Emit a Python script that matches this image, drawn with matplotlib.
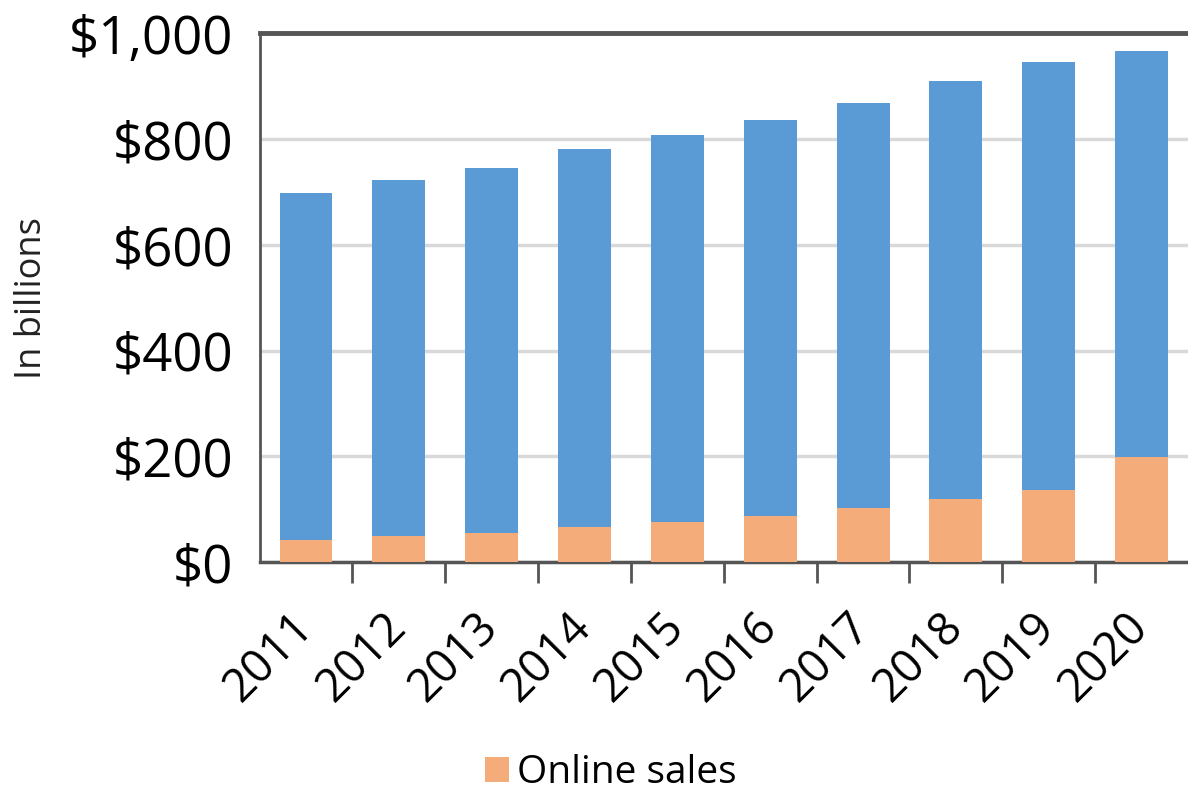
import matplotlib
matplotlib.use("Agg")
import matplotlib.pyplot as plt
import matplotlib.transforms as mtransforms
import numpy as np

# Data (billions of dollars)
years = ["2011", "2012", "2013", "2014", "2015", "2016", "2017", "2018", "2019", "2020"]
total_sales = [699, 723, 745, 781, 808, 837, 869, 910, 946, 966]
online_sales = [42, 49, 56, 66, 76, 87, 102, 119, 136, 199]
y_ticks = [0, 200, 400, 600, 800, 1000]
y_tick_labels = ["$0", "$200", "$400", "$600", "$800", "$1,000"]

plt.rcParams["font.family"] = ["Open Sans", "DejaVu Sans"]

blue = "#5B9BD5"
orange = "#F4AC7B"

fig = plt.figure(figsize=(11.88, 7.94), dpi=100)
ax = fig.add_axes([0.2185, 0.292, 0.7815, 0.666])

x = np.arange(len(years))
rest = np.array(total_sales) - np.array(online_sales)

ax.bar(x, online_sales, width=0.57, color=orange, label="Online sales", zorder=3)
ax.bar(x, rest, width=0.57, bottom=online_sales, color=blue, zorder=3)

ax.set_xlim(-0.5, len(years) - 0.5)
ax.set_ylim(0, 1000)

# y axis
ax.set_yticks(y_ticks, labels=y_tick_labels, fontsize=38)
ax.tick_params(axis="y", length=0, pad=19)
ax.yaxis.grid(True, color="#D9D9D9", linewidth=2.5, zorder=0)
ax.set_ylabel("In billions", fontsize=26, color="#222222")
ax.yaxis.set_label_coords(-0.226, 0.5)

# x axis: labels at centres, tick marks between categories
ax.set_xticks(x)
ax.set_xticklabels(years, rotation=45, ha="right", rotation_mode="anchor", fontsize=33)
ax.tick_params(axis="x", which="major", length=0, pad=30)
shift = mtransforms.ScaledTranslation(-16 / 100, 0, fig.dpi_scale_trans)
for lab in ax.get_xticklabels():
    lab.set_transform(lab.get_transform() + shift)
ax.set_xticks(np.arange(len(years) - 1) + 0.5, minor=True)
ax.tick_params(axis="x", which="minor", length=15, width=2, color="#555555")

for side in ["left", "bottom", "top"]:
    ax.spines[side].set_color("#555555")
ax.spines["left"].set_linewidth(2)
ax.spines["bottom"].set_linewidth(2.5)
ax.spines["top"].set_linewidth(3.5)
ax.spines["right"].set_visible(False)

fig.legend(
    loc="center",
    bbox_to_anchor=(0.514, 0.026),
    frameon=False,
    fontsize=28,
    handlelength=0.62,
    handleheight=0.62,
    handletextpad=0.2,
    borderpad=0.1,
)

fig.savefig("out.png", dpi=100)
